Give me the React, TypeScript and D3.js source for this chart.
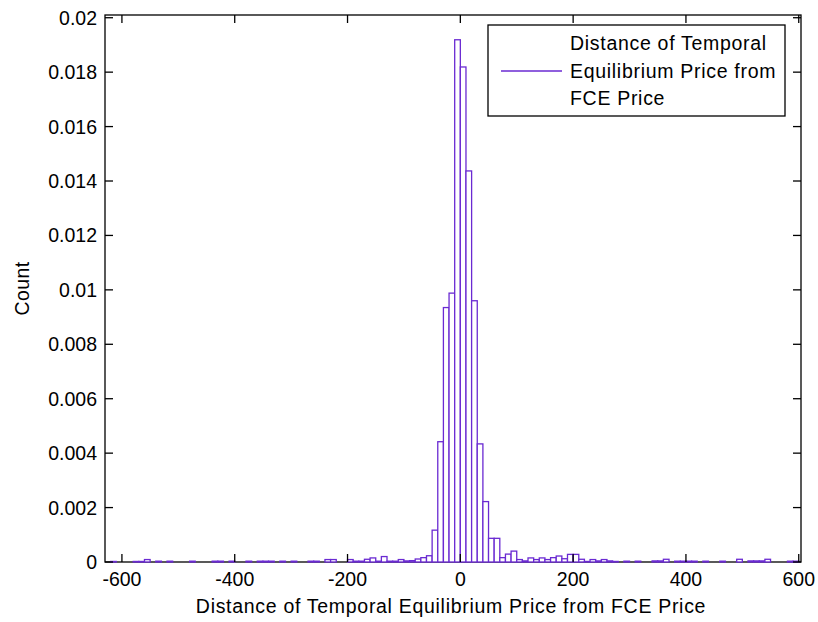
import React from "react";
import * as d3 from "d3";

// Histogram of the distance between temporal equilibrium price and FCE price.
// Bins are 10 units wide; values are normalised frequencies per bin.
const binWidth = 10;
const firstEdge = -630;

// bins with left edges -630 … -120
const leftTail = [
  0, 0.00002, 0, 0, 0, 0.00002, 0.00002, 0.00009, 0, 0.00003,
  0, 0.00003, 0, 0, 0, 0.00003, 0, 0, 0, 0.00003,
  0.00003, 0, 0.00003, 0, 0, 0.00003, 0, 0.00003, 0.00003, 0.00003,
  0, 0.00003, 0, 0.00003, 0, 0, 0.00003, 0.00003, 0, 0.00009,
  0.00009, 0, 0, 0.00009, 0.00003, 0.00003, 0.0001, 0.00015, 0.00003, 0.0002,
  0.00003, 0.00003,
];

// bins with left edges -110 … 100
const core = [
  0.00009, 0.00004, 0.00005, 0.00011, 0.00016, 0.00023, 0.00117, 0.00442,
  0.00935, 0.00988, 0.01919, 0.01819, 0.01437, 0.0096, 0.00434, 0.00222,
  0.00087, 0.00087, 0.00016, 0.00029, 0.0004, 0.00009,
];

// bins with left edges 110 … 590
const rightTail = [
  0.00004, 0.00015, 0.00009, 0.00015, 0.00009, 0.00016, 0.00022, 0.00012, 0.00028, 0.00028,
  0.0001, 0.00002, 0.00009, 0.00004, 0.00009, 0.00004, 0.00002, 0, 0.00003, 0,
  0.00003, 0, 0, 0.00004, 0.00004, 0.0001, 0, 0.00003, 0.00003, 0.00003,
  0.00003, 0, 0.00003, 0, 0, 0.00003, 0, 0, 0.0001, 0,
  0.00004, 0.00004, 0.00004, 0.0001, 0, 0, 0, 0.00003, 0.00003,
];

const xTicks = [-600, -400, -200, 0, 200, 400, 600];
const yTicks = [0, 0.002, 0.004, 0.006, 0.008, 0.01, 0.012, 0.014, 0.016, 0.018, 0.02];

const legendLines = ["Distance of Temporal", "Equilibrium Price from", "FCE Price"];
const xLabel = "Distance of Temporal Equilibrium Price from FCE Price";
const yLabel = "Count";

const W = 818;
const H = 622;
const plot = { left: 105, right: 801, top: 15, bottom: 562 };
const barColor = "#6a2ad2";
const font = "'Liberation Sans', Arial, sans-serif";
const fontSize = 19.5;
const textSpacing = 0.7;
const tickLen = 8;

export default function App() {
  const values = [...leftTail, ...core, ...rightTail];
  const bins = values.map((v, i) => ({
    x0: firstEdge + i * binWidth,
    x1: firstEdge + (i + 1) * binWidth,
    v,
  }));

  const x = d3.scaleLinear().domain([-630, 604]).range([plot.left, plot.right]);
  const y = d3.scaleLinear().domain([0, 0.0201]).range([plot.bottom, plot.top]);

  const fmtY = (v: number) => String(+v.toFixed(3));

  return (
    <svg
      width={W}
      height={H}
      style={{ position: "absolute", left: 0, top: 0, background: "#fff" }}
      fontFamily={font}
    >
      <rect x={0} y={0} width={W} height={H} fill="#fff" />

      {/* axes frame */}
      <rect
        x={plot.left}
        y={plot.top}
        width={plot.right - plot.left}
        height={plot.bottom - plot.top}
        fill="#fff"
        stroke="#000"
        strokeWidth={1.3}
      />

      {/* histogram bars */}
      <g fill="#fff" stroke={barColor} strokeWidth={1.3}>
        {bins.map((b, i) => (
          <rect
            key={i}
            x={x(b.x0)}
            y={y(b.v)}
            width={x(b.x1) - x(b.x0)}
            height={y(0) - y(b.v)}
          />
        ))}
      </g>

      {/* ticks on all four sides */}
      <g stroke="#000" strokeWidth={1.3}>
        {xTicks.map((t) => (
          <g key={"xt" + t}>
            <line x1={x(t)} x2={x(t)} y1={plot.bottom} y2={plot.bottom - tickLen} />
            <line x1={x(t)} x2={x(t)} y1={plot.top} y2={plot.top + tickLen} />
          </g>
        ))}
        {yTicks.map((t) => (
          <g key={"yt" + t}>
            <line x1={plot.left} x2={plot.left + tickLen} y1={y(t)} y2={y(t)} />
            <line x1={plot.right} x2={plot.right - tickLen} y1={y(t)} y2={y(t)} />
          </g>
        ))}
      </g>

      {/* tick labels */}
      <g fontSize={fontSize} fill="#000">
        {xTicks.map((t) => (
          <text key={"xl" + t} x={x(t)} y={plot.bottom + 24} textAnchor="middle">
            {String(t)}
          </text>
        ))}
        {yTicks.map((t) => (
          <text key={"yl" + t} x={plot.left - 8} y={y(t) + 7} textAnchor="end">
            {fmtY(t)}
          </text>
        ))}
      </g>

      {/* axis titles */}
      <text
        x={451}
        y={613}
        textAnchor="middle"
        fontSize={fontSize}
        letterSpacing={textSpacing}
        fill="#000"
      >
        {xLabel}
      </text>
      <text
        transform={`translate(29, ${(plot.top + plot.bottom) / 2}) rotate(-90)`}
        textAnchor="middle"
        fontSize={fontSize}
        letterSpacing={0.4}
        fill="#000"
      >
        {yLabel}
      </text>

      {/* legend */}
      <g>
        <rect x={488} y={25} width={297} height={91} fill="#fff" stroke="#000" strokeWidth={1.3} />
        <line x1={501} x2={562} y1={71} y2={71} stroke={barColor} strokeWidth={1.3} />
        {legendLines.map((s, i) => (
          <text
            key={i}
            x={570}
            y={50 + i * 27.5}
            fontSize={fontSize}
            letterSpacing={textSpacing}
            fill="#000"
          >
            {s}
          </text>
        ))}
      </g>
    </svg>
  );
}
